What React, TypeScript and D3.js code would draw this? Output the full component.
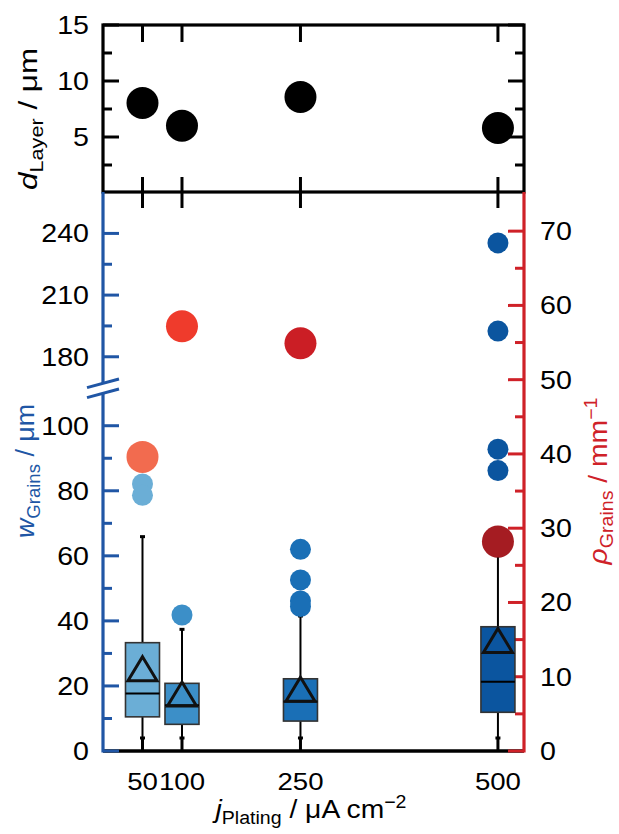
import React from 'react';
import * as d3 from 'd3';

// current densities (µA cm^-2)
const currents = [50, 100, 250, 500];

// top panel: layer thickness
const dLayer = [8.04, 6.0, 8.57, 5.8];

// grain width box statistics
const q1 = [10.5, 8.2, 9.2, 11.9];
const q3 = [33.3, 20.8, 22.2, 38.2];
const medians = [17.7, 14.1, 15.2, 21.3];
const means = [25.3, 17.5, 19.0, 34.0];
const whiskerHigh = [65.9, 37.4, 41.5, 60];
const whiskerLow = [4, 4, 4, 4];

// outliers (per current)
const outliers = [
  [82.1, 78.6],
  [41.8],
  [62.0, 52.6, 46.1, 44.4],
  [92.8, 86.2, 192.5, 235.4],
];

// grain density (mm^-1)
const rhoGrains = [39.6, 57.2, 54.9, 28.2];

const boxColors = ['#6baed6', '#3c8fc8', '#1a6fb6', '#0b559f'];
const rhoColors = ['#f26b4f', '#ef3b2c', '#cb1e25', '#a51c22'];

const topTicksMajor = [5, 10, 15];
const topTicksMinor = [2.5, 7.5, 12.5];
const wTicksLowMajor = [0, 20, 40, 60, 80, 100];
const wTicksLowMinor = [10, 30, 50, 70, 90];
const wTicksUpMajor = [180, 210, 240];
const wTicksUpMinor = [195, 225];
const rhoTicksMajor = [0, 10, 20, 30, 40, 50, 60, 70];
const rhoTicksMinor = [5, 15, 25, 35, 45, 55, 65];

const BLUE = '#2056a5';
const RED = '#cf2128';
const FONT = '"Liberation Sans", Arial, sans-serif';

export default function App() {
  const left = 103, right = 524;
  const topY = 25, midY = 192, botY = 751;

  const x = d3.scaleLinear().domain([0, 533]).range([left, right]);
  const yTop = d3.scaleLinear().domain([0, 15]).range([193, topY]);
  const yLow = d3.scaleLinear().domain([0, 110]).range([botY, 393.2]);
  const yUp = d3.scaleLinear().domain([167, 260]).range([383.5, 192.3]);
  const yW = (v: number) => (v > 130 ? yUp(v) : yLow(v));
  const yR = d3.scaleLinear().domain([0, 75]).range([botY, 194]);

  const major = 16, minor = 9, bw = 34;

  const tickLabel = (tx: number, ty: number, s: string, anchor: string, size = 26, sx = 1.1, key?: any) => (
    <text key={key} transform={`translate(${tx},${ty}) scale(${sx},1)`} textAnchor={anchor}
      fontSize={size} fill="#000">{s}</text>
  );

  return (
    <svg width={619} height={834} style={{ position: 'absolute', left: 0, top: 0 }} fontFamily={FONT}>
      <rect width={619} height={834} fill="#fff" />

      {/* top panel frame */}
      <rect x={left} y={topY} width={right - left} height={midY - topY} fill="none" stroke="#000" strokeWidth={3.2} />
      {topTicksMajor.map(v => (
        <g key={'tm' + v}>
          <line x1={left} x2={left + major} y1={yTop(v)} y2={yTop(v)} stroke="#000" strokeWidth={3} />
          <line x1={right} x2={right - major} y1={yTop(v)} y2={yTop(v)} stroke="#000" strokeWidth={3} />
          {tickLabel(89, yTop(v) + 9, String(v), 'end')}
        </g>
      ))}
      {topTicksMinor.map(v => (
        <g key={'tn' + v}>
          <line x1={left} x2={left + minor} y1={yTop(v)} y2={yTop(v)} stroke="#000" strokeWidth={3} />
          <line x1={right} x2={right - minor} y1={yTop(v)} y2={yTop(v)} stroke="#000" strokeWidth={3} />
        </g>
      ))}
      {currents.map(c => (
        <g key={'xt' + c}>
          <line x1={x(c)} x2={x(c)} y1={topY} y2={topY + 17} stroke="#000" strokeWidth={3} />
          <line x1={x(c)} x2={x(c)} y1={midY} y2={midY - 15} stroke="#000" strokeWidth={3} />
          <line x1={x(c)} x2={x(c)} y1={midY} y2={midY + 16} stroke="#000" strokeWidth={3} />
          <line x1={x(c)} x2={x(c)} y1={botY} y2={botY - 14} stroke="#000" strokeWidth={3} />
        </g>
      ))}
      {currents.map((c, i) => (
        <circle key={'d' + c} cx={x(c)} cy={yTop(dLayer[i])} r={16} fill="#000" />
      ))}

      {/* bottom axis */}
      <line x1={left} x2={right} y1={botY} y2={botY} stroke="#000" strokeWidth={3.4} />
      {currents.map(c => tickLabel(x(c), 790, String(c), 'middle', 24, 1.15, 'xl' + c))}

      {/* blue left axis with break */}
      <line x1={left} x2={left} y1={botY + 1.5} y2={yLow(110)} stroke={BLUE} strokeWidth={3.2} />
      <line x1={left} x2={left} y1={yUp(167)} y2={midY} stroke={BLUE} strokeWidth={3.2} />
      <line x1={87} x2={119} y1={387.6} y2={379} stroke={BLUE} strokeWidth={3} />
      <line x1={87} x2={119} y1={397.6} y2={389} stroke={BLUE} strokeWidth={3} />
      {wTicksLowMajor.map(v => (
        <g key={'wl' + v}>
          <line x1={left} x2={left + major} y1={yLow(v)} y2={yLow(v)} stroke={BLUE} strokeWidth={3} />
          {tickLabel(89, yLow(v) + 9, String(v), 'end')}
        </g>
      ))}
      {wTicksLowMinor.map(v => (
        <line key={'wln' + v} x1={left} x2={left + minor} y1={yLow(v)} y2={yLow(v)} stroke={BLUE} strokeWidth={3} />
      ))}
      {wTicksUpMajor.map(v => (
        <g key={'wu' + v}>
          <line x1={left} x2={left + major} y1={yUp(v)} y2={yUp(v)} stroke={BLUE} strokeWidth={3} />
          {tickLabel(89, yUp(v) + 9, String(v), 'end')}
        </g>
      ))}
      {wTicksUpMinor.map(v => (
        <line key={'wun' + v} x1={left} x2={left + minor} y1={yUp(v)} y2={yUp(v)} stroke={BLUE} strokeWidth={3} />
      ))}

      {/* red right axis */}
      <line x1={right} x2={right} y1={botY + 1.5} y2={midY} stroke={RED} strokeWidth={3.2} />
      {rhoTicksMajor.map(v => (
        <g key={'r' + v}>
          <line x1={right} x2={right - major} y1={yR(v)} y2={yR(v)} stroke={RED} strokeWidth={3} />
          {tickLabel(540, yR(v) + 9, String(v), 'start')}
        </g>
      ))}
      {rhoTicksMinor.map(v => (
        <line key={'rn' + v} x1={right} x2={right - minor} y1={yR(v)} y2={yR(v)} stroke={RED} strokeWidth={3} />
      ))}

      {/* box plots */}
      {currents.map((c, i) => {
        const cx = x(c);
        const m = yLow(means[i]);
        return (
          <g key={'b' + c}>
            <line x1={cx} x2={cx} y1={yLow(whiskerHigh[i])} y2={yLow(q3[i])} stroke="#000" strokeWidth={2} />
            <line x1={cx} x2={cx} y1={yLow(q1[i])} y2={yLow(whiskerLow[i])} stroke="#000" strokeWidth={2} />
            <line x1={cx - 2.5} x2={cx + 2.5} y1={yLow(whiskerHigh[i])} y2={yLow(whiskerHigh[i])} stroke="#000" strokeWidth={3} />
            <line x1={cx - 2.5} x2={cx + 2.5} y1={yLow(whiskerLow[i])} y2={yLow(whiskerLow[i])} stroke="#000" strokeWidth={3} />
            <rect x={cx - bw / 2} y={yLow(q3[i])} width={bw} height={yLow(q1[i]) - yLow(q3[i])}
              fill={boxColors[i]} stroke="#333" strokeWidth={1.6} />
            <line x1={cx - bw / 2} x2={cx + bw / 2} y1={yLow(medians[i])} y2={yLow(medians[i])} stroke="#000" strokeWidth={2} />
            <path d={`M${cx},${m - 12}L${cx + 14.5},${m + 12}L${cx - 14.5},${m + 12}Z`} fill="none" stroke="#111" strokeWidth={3} />
          </g>
        );
      })}

      {/* outliers */}
      {currents.map((c, i) => outliers[i].map((v, j) => (
        <circle key={'o' + c + '-' + j} cx={x(c)} cy={yW(v)} r={10.5} fill={boxColors[i]} />
      )))}

      {/* grain density */}
      {currents.map((c, i) => (
        <circle key={'rho' + c} cx={x(c)} cy={yR(rhoGrains[i])} r={16} fill={rhoColors[i]} />
      ))}

      {/* titles */}
      <text transform="translate(36.5,119) rotate(-90)" textAnchor="middle" fontSize={26} fill="#000"
        textLength={142} lengthAdjust="spacingAndGlyphs">
        <tspan fontStyle="italic">d</tspan>
        <tspan fontSize={18} dy={6}>Layer</tspan>
        <tspan dy={-6}> / μm</tspan>
      </text>
      <text transform="translate(34,471) rotate(-90)" textAnchor="middle" fontSize={26} fill={BLUE}
        textLength={134} lengthAdjust="spacingAndGlyphs">
        <tspan fontStyle="italic">w</tspan>
        <tspan fontSize={18} dy={6}>Grains</tspan>
        <tspan dy={-6}> / μm</tspan>
      </text>
      <text transform="translate(607,481) rotate(-90)" textAnchor="middle" fontSize={26} fill={RED}
        textLength={167} lengthAdjust="spacingAndGlyphs">
        <tspan fontStyle="italic">ρ</tspan>
        <tspan fontSize={18} dy={6}>Grains</tspan>
        <tspan dy={-6}> / mm</tspan>
        <tspan fontSize={18} dy={-10}>−1</tspan>
      </text>
      <text x={311} y={818} textAnchor="middle" fontSize={26} fill="#000"
        textLength={191} lengthAdjust="spacingAndGlyphs">
        <tspan fontStyle="italic">j</tspan>
        <tspan fontSize={18} dy={6}>Plating</tspan>
        <tspan dy={-6}> / μA cm</tspan>
        <tspan fontSize={18} dy={-10}>−2</tspan>
      </text>
    </svg>
  );
}
